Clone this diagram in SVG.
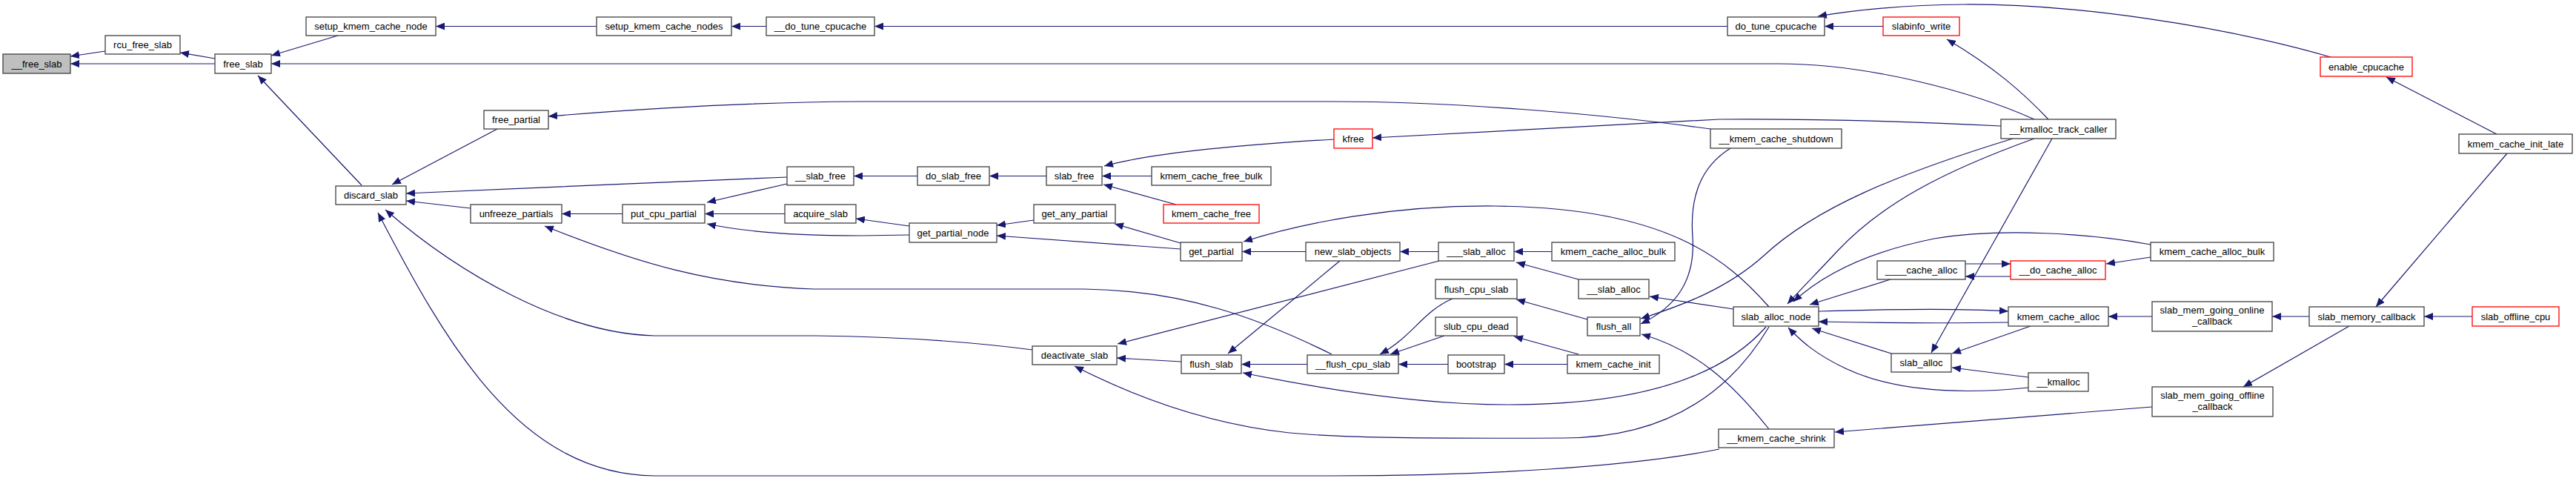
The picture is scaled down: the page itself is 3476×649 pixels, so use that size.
<svg xmlns="http://www.w3.org/2000/svg" width="3476" height="649" viewBox="0 0 3476 649">
<style>
.n rect{fill:#fff;stroke:#404040;stroke-width:1.3}
.n.r rect{stroke:#ff0000}
.n.g rect{fill:#bfbfbf}
text{font-family:"Liberation Sans",Arial,Helvetica,sans-serif;font-size:13px;text-anchor:middle;fill:#000}
#edges path{fill:none;stroke:#191970;stroke-width:1.2;marker-end:url(#ah)}
</style>
<defs>
<marker id="ah" markerWidth="12" markerHeight="10" refX="12" refY="5" orient="auto" markerUnits="userSpaceOnUse"><path d="M0,0 L12,5 L0,10 z" fill="#191970"/></marker>
</defs>
<rect width="3476" height="649" fill="#fff"/>
<g id="edges">
<path d="M142,69 L95,76"/>
<path d="M290,86 L95,86"/>
<path d="M290,79 L243,71"/>
<path d="M456,48 L366,75"/>
<path d="M2745,161 C2660,123 2520,86 2400,86 L366,86"/>
<path d="M488,250 L348,102"/>
<path d="M805,35.5 L588,35.5"/>
<path d="M1034,35.5 L987,35.5"/>
<path d="M2331,35.5 L1180,35.5"/>
<path d="M2541,35.5 L2462,35.5"/>
<path d="M3145,77 C3000,35 2800,5 2650,6 C2560,7 2500,14 2453,22"/>
<path d="M2764,161 C2730,125 2690,90 2627,53"/>
<path d="M3369,181 L3220,104"/>
<path d="M671,174 L529,249"/>
<path d="M1062,239 C900,245 700,255 548,261"/>
<path d="M635,281 L548,271"/>
<path d="M1393,472 C1300,460 1200,454 1100,453 L883,453 C760,450 620,370 520,283"/>
<path d="M2320,606 C2200,630 2000,642 1800,642 L883,642 C700,640 600,460 510,287"/>
<path d="M840,288.5 L758,288.5"/>
<path d="M1797,478 C1700,430 1600,392 1463,390 L1098,390 C960,385 860,355 735,305"/>
<path d="M1062,248 L954,273"/>
<path d="M1059,288.5 L951,288.5"/>
<path d="M1227,317 L1160,318 C1080,318 1010,314 954,302"/>
<path d="M1227,305 L1155,295"/>
<path d="M1238,237.5 L1152,237.5"/>
<path d="M1412,237.5 L1335,237.5"/>
<path d="M1800,188 C1680,195 1560,205 1490,224"/>
<path d="M1554,237.5 L1487,237.5"/>
<path d="M1587,276 L1489,249"/>
<path d="M1395,297 L1345,304"/>
<path d="M1593,336 L1345,318"/>
<path d="M1593,328 L1504,302"/>
<path d="M1762,339.5 L1676,339.5"/>
<path d="M2387,414 C2330,350 2250,280 2017,278 C1880,277 1760,300 1678,326"/>
<path d="M1941,339.5 L1889,339.5"/>
<path d="M1808,352 L1657,477"/>
<path d="M1942,352 L1508,464"/>
<path d="M2094,339.5 L2043,339.5"/>
<path d="M2130,377 L2046,354"/>
<path d="M2339,417 L2226,400"/>
<path d="M2142,431 L2046,404"/>
<path d="M2716,187 C2560,235 2450,280 2380,345 C2330,390 2270,412 2214,430"/>
<path d="M2335,200 C2295,225 2280,265 2284,320 C2288,380 2260,415 2214,437"/>
<path d="M2387,579 C2340,520 2290,472 2215,451"/>
<path d="M2130,478 L2043,454"/>
<path d="M2115,491.5 L2030,491.5"/>
<path d="M1960,403 C1920,420 1905,455 1862,478"/>
<path d="M1949,453 L1876,478"/>
<path d="M1954,491.5 L1887,491.5"/>
<path d="M1594,488 L1507,483"/>
<path d="M1764,491.5 L1675,491.5"/>
<path d="M2383,441 C2340,490 2250,546 2036,546 C1900,546 1760,520 1677,503"/>
<path d="M2387,441 C2340,520 2260,591 2110,591 C1900,592 1800,590 1740,584 C1640,573 1540,540 1450,494"/>
<path d="M2454,420 C2550,417 2650,416 2710,420"/>
<path d="M2710,435 C2650,436 2550,436 2454,434"/>
<path d="M2551,377 L2442,411"/>
<path d="M2652,356 L2713,356"/>
<path d="M2713,373 L2652,373"/>
<path d="M2552,477 L2445,443"/>
<path d="M2737,523 C2650,532 2560,530 2490,497 C2450,478 2430,460 2413,442"/>
<path d="M2740,440 L2634,477"/>
<path d="M2737,509 L2634,496"/>
<path d="M2769,187 L2606,476"/>
<path d="M2745,187 C2620,232 2540,275 2480,338 C2455,365 2430,390 2412,410"/>
<path d="M2902,330 C2820,315 2700,307 2610,322 C2520,340 2460,370 2420,407"/>
<path d="M2902,347 L2842,356"/>
<path d="M2904,427 L2845,427"/>
<path d="M2904,549 C2750,562 2600,573 2476,583"/>
<path d="M3116,427 L3066,427"/>
<path d="M3170,440 L3027,522"/>
<path d="M3336,427 L3271,427"/>
<path d="M3383,207 L3206,414"/>
<path d="M2700,170 C2600,165 2450,160 2320,161 L1852,186"/>
<path d="M2308,174 C2150,152 1950,137 1800,137 L1160,137 C1000,138 850,148 740,157"/>
</g>
<g id="n_free_slab_root" class="n g"><rect x="4" y="73" width="91" height="26"/><text x="49.5" y="90.5">__free_slab</text></g>
<g id="n_rcu_free_slab" class="n"><rect x="142" y="48" width="101" height="25"/><text x="192.5" y="65">rcu_free_slab</text></g>
<g id="n_free_slab" class="n"><rect x="290" y="73" width="76" height="26"/><text x="328" y="90.5">free_slab</text></g>
<g id="n_setup_kmem_cache_node" class="n"><rect x="413" y="23" width="175" height="25"/><text x="500.5" y="40">setup_kmem_cache_node</text></g>
<g id="n_setup_kmem_cache_nodes" class="n"><rect x="805" y="23" width="182" height="25"/><text x="896" y="40">setup_kmem_cache_nodes</text></g>
<g id="n___do_tune_cpucache" class="n"><rect x="1034" y="23" width="146" height="25"/><text x="1107" y="40">__do_tune_cpucache</text></g>
<g id="n_do_tune_cpucache" class="n"><rect x="2331" y="23" width="131" height="25"/><text x="2396.5" y="40">do_tune_cpucache</text></g>
<g id="n_slabinfo_write" class="n r"><rect x="2541" y="23" width="103" height="25"/><text x="2592.5" y="40">slabinfo_write</text></g>
<g id="n_enable_cpucache" class="n r"><rect x="3131" y="77" width="124" height="26"/><text x="3193" y="94.5">enable_cpucache</text></g>
<g id="n_kmem_cache_init_late" class="n"><rect x="3318" y="181" width="153" height="26"/><text x="3394.5" y="198.5">kmem_cache_init_late</text></g>
<g id="n_discard_slab" class="n"><rect x="453" y="251" width="95" height="25"/><text x="500.5" y="268">discard_slab</text></g>
<g id="n_free_partial" class="n"><rect x="653" y="149" width="87" height="25"/><text x="696.5" y="166">free_partial</text></g>
<g id="n___slab_free" class="n"><rect x="1062" y="225" width="90" height="25"/><text x="1107" y="242">__slab_free</text></g>
<g id="n_unfreeze_partials" class="n"><rect x="635" y="276" width="123" height="25"/><text x="696.5" y="293">unfreeze_partials</text></g>
<g id="n_put_cpu_partial" class="n"><rect x="840" y="276" width="111" height="25"/><text x="895.5" y="293">put_cpu_partial</text></g>
<g id="n_acquire_slab" class="n"><rect x="1059" y="276" width="96" height="25"/><text x="1107" y="293">acquire_slab</text></g>
<g id="n_do_slab_free" class="n"><rect x="1238" y="225" width="97" height="25"/><text x="1286.5" y="242">do_slab_free</text></g>
<g id="n_slab_free" class="n"><rect x="1412" y="225" width="75" height="25"/><text x="1449.5" y="242">slab_free</text></g>
<g id="n_kmem_cache_free_bulk" class="n"><rect x="1554" y="225" width="161" height="25"/><text x="1634.5" y="242">kmem_cache_free_bulk</text></g>
<g id="n_kmem_cache_free" class="n r"><rect x="1570" y="276" width="129" height="25"/><text x="1634.5" y="293">kmem_cache_free</text></g>
<g id="n_get_any_partial" class="n"><rect x="1395" y="276" width="110" height="25"/><text x="1450" y="293">get_any_partial</text></g>
<g id="n_get_partial_node" class="n"><rect x="1227" y="301" width="118" height="26"/><text x="1286" y="318.5">get_partial_node</text></g>
<g id="n_kfree" class="n r"><rect x="1800" y="174" width="52" height="26"/><text x="1826" y="191.5">kfree</text></g>
<g id="n___kmem_cache_shutdown" class="n"><rect x="2308" y="174" width="177" height="26"/><text x="2396.5" y="191.5">__kmem_cache_shutdown</text></g>
<g id="n___kmalloc_track_caller" class="n"><rect x="2700" y="161" width="155" height="26"/><text x="2777.5" y="178.5">__kmalloc_track_caller</text></g>
<g id="n_get_partial" class="n"><rect x="1593" y="327" width="83" height="25"/><text x="1634.5" y="344">get_partial</text></g>
<g id="n_new_slab_objects" class="n"><rect x="1762" y="327" width="127" height="25"/><text x="1825.5" y="344">new_slab_objects</text></g>
<g id="n____slab_alloc" class="n"><rect x="1941" y="327" width="102" height="25"/><text x="1992" y="344">___slab_alloc</text></g>
<g id="n_kmem_cache_alloc_bulk_a" class="n"><rect x="2094" y="327" width="166" height="25"/><text x="2177" y="344">kmem_cache_alloc_bulk</text></g>
<g id="n_flush_cpu_slab" class="n"><rect x="1937" y="377" width="110" height="26"/><text x="1992" y="394.5">flush_cpu_slab</text></g>
<g id="n___slab_alloc" class="n"><rect x="2130" y="377" width="95" height="26"/><text x="2177.5" y="394.5">__slab_alloc</text></g>
<g id="n_slub_cpu_dead" class="n"><rect x="1937" y="428" width="110" height="25"/><text x="1992" y="445">slub_cpu_dead</text></g>
<g id="n_flush_all" class="n"><rect x="2142" y="428" width="71" height="25"/><text x="2177.5" y="445">flush_all</text></g>
<g id="n_deactivate_slab" class="n"><rect x="1393" y="467" width="114" height="25"/><text x="1450" y="484">deactivate_slab</text></g>
<g id="n_flush_slab" class="n"><rect x="1594" y="479" width="81" height="25"/><text x="1634.5" y="496">flush_slab</text></g>
<g id="n___flush_cpu_slab" class="n"><rect x="1764" y="479" width="123" height="25"/><text x="1825.5" y="496">__flush_cpu_slab</text></g>
<g id="n_bootstrap" class="n"><rect x="1954" y="479" width="76" height="25"/><text x="1992" y="496">bootstrap</text></g>
<g id="n_kmem_cache_init" class="n"><rect x="2115" y="479" width="124" height="25"/><text x="2177" y="496">kmem_cache_init</text></g>
<g id="n___kmem_cache_shrink" class="n"><rect x="2319" y="579" width="156" height="25"/><text x="2397" y="596">__kmem_cache_shrink</text></g>
<g id="n_slab_alloc_node" class="n"><rect x="2339" y="414" width="115" height="26"/><text x="2396.5" y="431.5">slab_alloc_node</text></g>
<g id="n_____cache_alloc" class="n"><rect x="2533" y="352" width="119" height="25"/><text x="2592.5" y="369">____cache_alloc</text></g>
<g id="n___do_cache_alloc" class="n r"><rect x="2713" y="352" width="128" height="25"/><text x="2777" y="369">__do_cache_alloc</text></g>
<g id="n_kmem_cache_alloc" class="n"><rect x="2710" y="414" width="135" height="26"/><text x="2777.5" y="431.5">kmem_cache_alloc</text></g>
<g id="n_slab_alloc" class="n"><rect x="2552" y="477" width="81" height="25"/><text x="2592.5" y="494">slab_alloc</text></g>
<g id="n___kmalloc" class="n"><rect x="2737" y="503" width="81" height="25"/><text x="2777.5" y="520">__kmalloc</text></g>
<g id="n_kmem_cache_alloc_bulk_b" class="n"><rect x="2902" y="327" width="166" height="25"/><text x="2985" y="344">kmem_cache_alloc_bulk</text></g>
<g id="n_slab_mem_going_online_callback" class="n"><rect x="2904" y="407" width="162" height="40"/><text x="2985" y="423">slab_mem_going_online</text><text x="2985" y="438">_callback</text></g>
<g id="n_slab_memory_callback" class="n"><rect x="3116" y="414" width="155" height="26"/><text x="3193.5" y="431.5">slab_memory_callback</text></g>
<g id="n_slab_offline_cpu" class="n r"><rect x="3336" y="414" width="117" height="26"/><text x="3394.5" y="431.5">slab_offline_cpu</text></g>
<g id="n_slab_mem_going_offline_callback" class="n"><rect x="2904" y="522" width="163" height="40"/><text x="2985.5" y="538">slab_mem_going_offline</text><text x="2985.5" y="553">_callback</text></g>
</svg>
